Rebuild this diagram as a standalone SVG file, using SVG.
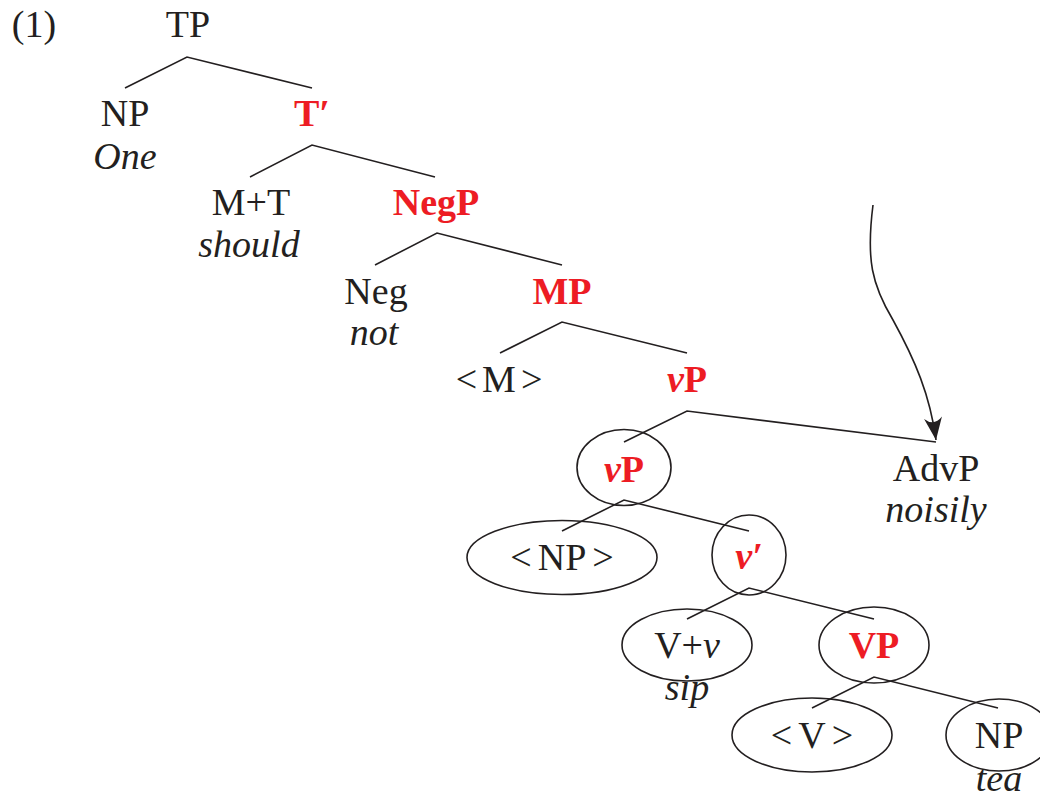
<svg xmlns="http://www.w3.org/2000/svg" width="1040" height="791" viewBox="0 0 1040 791">
<style>
text{font-family:"Liberation Serif","Times New Roman",serif;font-size:38px;fill:#231f20;text-anchor:middle}
.r{fill:#ed1c24;font-weight:bold}
.i{font-style:italic}
.e{fill:none;stroke:#231f20;stroke-width:1.6}
.l{fill:none;stroke:#231f20;stroke-width:1.6}
</style>
<defs>
<marker id="ah" markerUnits="userSpaceOnUse" markerWidth="30" markerHeight="30" viewBox="-16 -10 20 20" refX="0" refY="0" orient="auto">
<path d="M0,0 L-15,-6 Q-9,0 -15,6 Z" fill="#231f20"/>
</marker>
</defs>
<rect width="1040" height="791" fill="#fff"/>
<text x="34" y="37">(1)</text>
<g id="connectors">
<path class="l" d="M125,88 L187,57 L312,88"/>
<path class="l" d="M250,177 L312,145 L435,177"/>
<path class="l" d="M375,265 L437,233 L562,265"/>
<path class="l" d="M500,353 L562,322 L687,353"/>
<path class="l" d="M624,442 L687,411 L936,442"/>
<path class="l" d="M562,531 L624,500 L749,531"/>
<path class="l" d="M687,619 L749,588 L874,619"/>
<path class="l" d="M812,708 L874,677 L998,708"/>
<path class="l" d="M873,205 C866,260 872,285 893,320 C915,360 930,395 936,440" marker-end="url(#ah)"/>
</g>
<g id="TP"><text x="188" y="37">TP</text></g>
<g id="NP1"><text x="125" y="126">NP</text><text class="i" x="125" y="169">One</text></g>
<g id="Tbar"><text class="r" x="312" y="126">T′</text></g>
<g id="MT"><text x="251" y="215">M+T</text><text class="i" x="249" y="257">should</text></g>
<g id="NegP"><text class="r" x="436" y="215">NegP</text></g>
<g id="Neg"><text x="376" y="304">Neg</text><text class="i" x="374" y="345">not</text></g>
<g id="MP"><text class="r" x="562" y="304">MP</text></g>
<g id="M"><text x="499" y="392">&lt;<tspan dx="5">M</tspan><tspan dx="5">&gt;</tspan></text></g>
<g id="vP1"><text class="r" x="687" y="392"><tspan class="i">v</tspan>P</text></g>
<g id="AdvP"><text x="936" y="481">AdvP</text><text class="i" x="936" y="522">noisily</text></g>
<g id="vP2"><ellipse class="e" cx="624" cy="467.5" rx="47" ry="38"/><text class="r" x="624" y="482"><tspan class="i">v</tspan>P</text></g>
<g id="NP2"><ellipse class="e" cx="562" cy="557.5" rx="95" ry="37"/><text x="562" y="570">&lt;<tspan dx="6">NP</tspan><tspan dx="6">&gt;</tspan></text></g>
<g id="vbar"><ellipse class="e" cx="749" cy="555" rx="37" ry="40"/><text class="r i" x="749" y="569">v′</text></g>
<g id="Vv"><ellipse class="e" cx="687" cy="645" rx="65" ry="36"/><text x="687" y="658">V+<tspan class="i">v</tspan></text><text class="i" x="687" y="700">sip</text></g>
<g id="VP"><ellipse class="e" cx="874" cy="645" rx="55" ry="38"/><text class="r" x="874" y="658">VP</text></g>
<g id="V"><ellipse class="e" cx="812" cy="735" rx="80" ry="37"/><text x="812" y="748">&lt;<tspan dx="6">V</tspan><tspan dx="6">&gt;</tspan></text></g>
<g id="NP3"><ellipse class="e" cx="999" cy="735" rx="53" ry="36"/><text x="999" y="748">NP</text><text class="i" x="999" y="791">tea</text></g>
</svg>
